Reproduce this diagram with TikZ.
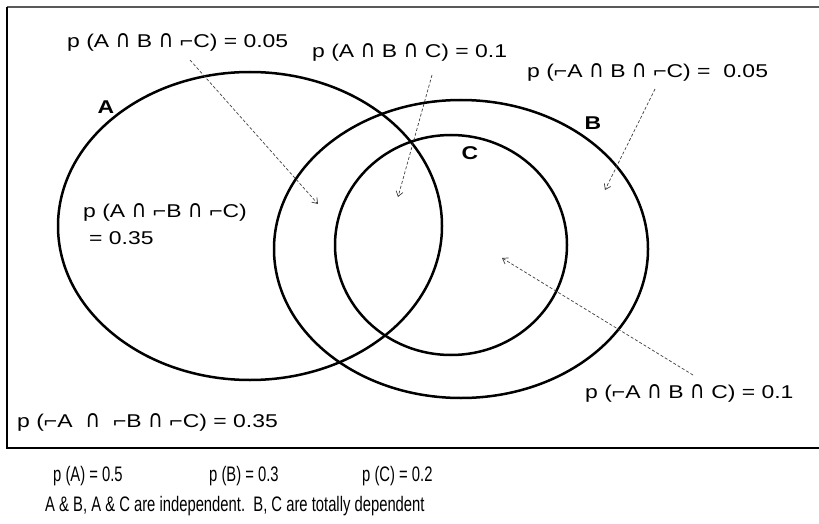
\documentclass[tikz,border=0pt]{standalone}
\usepackage{fontspec}
\setmainfont{Liberation Sans}
\newfontfamily\narrowerfont[FakeStretch=0.705]{Liberation Sans}
\newfontfamily\widefont[FakeStretch=1.24]{Liberation Sans}
\newfontfamily\capfont[FakeStretch=1.1]{DejaVu Sans}
\newcommand{\ii}{\scalebox{1}[1.3]{\capfont ∩}}
\usetikzlibrary{arrows.meta}
\begin{document}
\begin{tikzpicture}[x=1pt,y=-1pt,
  lbl/.style={inner sep=0pt,font=\widefont\fontsize{18.5}{22}\selectfont,anchor=west},
  setname/.style={inner sep=0pt,font=\widefont\fontsize{18.5}{20}\selectfont\bfseries},
  foot/.style={inner sep=0pt,font=\narrowerfont\fontsize{21}{24}\selectfont,anchor=west},
  circ/.style={line width=2.5pt},
  ptr/.style={densely dashed,line width=0.7pt,draw=black!75,-{Straight Barb[length=5pt,width=7pt]}}]
\useasboundingbox (0,0) rectangle (819,524);
\fill[white] (0,0) rectangle (819,524);
% frame
\draw[line width=1.5pt,black!65] (7,7) -- (819,7);
\draw[line width=2pt] (7,7) -- (7,448) -- (819,448);
% sets
\draw[circ] (250,226) ellipse [x radius=192,y radius=154];
\draw[circ] (461,249) ellipse [x radius=187,y radius=149];
\draw[circ] (451,245) ellipse [x radius=116,y radius=110];
\node[setname] (nA) at (106,107) {A};
\node[setname] (nB) at (593,123) {B};
\node[setname] (nC) at (470,153) {C};
% labels
\node[lbl] (l1) at (67,42) {p (A \ii{} B \ii{} ⌐C) = 0.05};
\node[lbl] (l2) at (312,52) {p (A \ii{} B \ii{} C) = 0.1};
\node[lbl] (l3) at (527,72) {p (⌐A \ii{} B \ii{} ⌐C) =\ \ 0.05};
\node[lbl] (l4) at (83,212) {p (A \ii{} ⌐B \ii{} ⌐C)};
\node[lbl] (l5) at (89,238) {= 0.35};
\node[lbl] (l6) at (17,422) {p (⌐A\ \ \ii\ \ ⌐B \ii{} ⌐C) = 0.35};
\node[lbl] (l7) at (585,393) {p (⌐A \ii{} B \ii{} C) = 0.1};
% pointers
\coordinate (s1) at (190,60); \coordinate (e1) at (318,204);
\coordinate (s2) at (432,75); \coordinate (e2) at (398,197);
\coordinate (s3) at (655,89); \coordinate (e3) at (605,190);
\coordinate (s4) at (693,375); \coordinate (e4) at (502,258);
\draw[ptr] (s1) -- (e1);
\draw[ptr] (s2) -- (e2);
\draw[ptr] (s3) -- (e3);
\draw[ptr] (s4) -- (e4);
% footer
\node[foot] (pA) at (53,476) {p (A) = 0.5};
\node[foot] (pB) at (209,476) {p (B) = 0.3};
\node[foot] (pC) at (362,476) {p (C) = 0.2};
\node[foot] (note) at (45,506) {A \& B, A \& C are independent.\ \ B, C are totally dependent};
\end{tikzpicture}
\end{document}
